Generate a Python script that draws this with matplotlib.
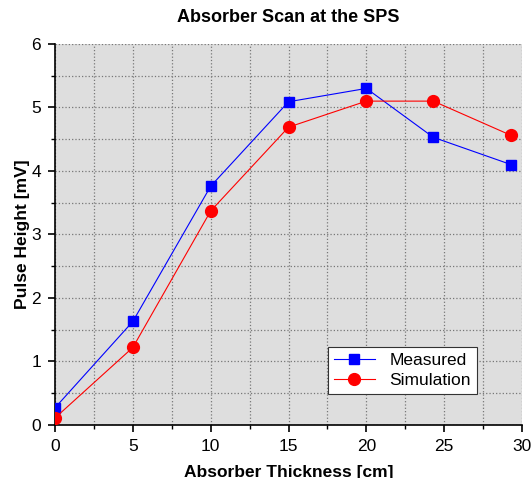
import matplotlib
matplotlib.use('Agg')
import matplotlib.pyplot as plt
from matplotlib.ticker import MultipleLocator

plt.rcParams['font.family'] = ['Liberation Sans', 'DejaVu Sans']

# data
thick_meas = [0, 5, 10, 15, 20, 24.3, 29.3]
pulse_meas = [0.27, 1.63, 3.76, 5.09, 5.30, 4.53, 4.10]
thick_sim = [0, 5, 10, 15, 20, 24.3, 29.3]
pulse_sim = [0.11, 1.22, 3.37, 4.69, 5.10, 5.10, 4.56]

fig = plt.figure(figsize=(5.31, 4.78), dpi=100)
ax = fig.add_axes([0.1036, 0.111, 0.8795, 0.797])
ax.set_facecolor('#dedede')

ax.plot(thick_meas, pulse_meas, color='blue', lw=0.8, marker='s', ms=7.5,
        label='Measured', zorder=3)
ax.plot(thick_sim, pulse_sim, color='red', lw=0.8, marker='o', ms=8.5,
        label='Simulation', zorder=3)

ax.set_xlim(0, 30)
ax.set_ylim(0, 6)
ax.xaxis.set_major_locator(MultipleLocator(5))
ax.xaxis.set_minor_locator(MultipleLocator(2.5))
ax.yaxis.set_major_locator(MultipleLocator(1))
ax.yaxis.set_minor_locator(MultipleLocator(0.5))

ax.grid(which='both', color='#777777', ls=':', lw=0.9, zorder=0)
ax.set_axisbelow(True)
ax.spines[['top', 'right']].set_visible(False)
for s in ('left', 'bottom'):
    ax.spines[s].set_linewidth(1.2)
ax.tick_params(which='major', direction='out', length=5, width=1.2,
               labelsize=12.5, pad=5)
ax.tick_params(which='minor', direction='out', length=3, width=1.0)

ax.set_xlabel('Absorber Thickness [cm]', fontsize=12.5, fontweight='bold',
              labelpad=8)
ax.set_ylabel('Pulse Height [mV]', fontsize=12.5, fontweight='bold',
              labelpad=1)
ax.set_title('Absorber Scan at the SPS', fontsize=13, fontweight='bold',
             pad=16)

leg = ax.legend(loc='upper left', bbox_to_anchor=(0.565, 0.228), fontsize=12.5,
                fancybox=False, framealpha=1, edgecolor='#333333',
                borderpad=0.35, handlelength=2.4, labelspacing=0.3)
leg.get_frame().set_linewidth(0.8)

fig.savefig('out.png', dpi=100)
